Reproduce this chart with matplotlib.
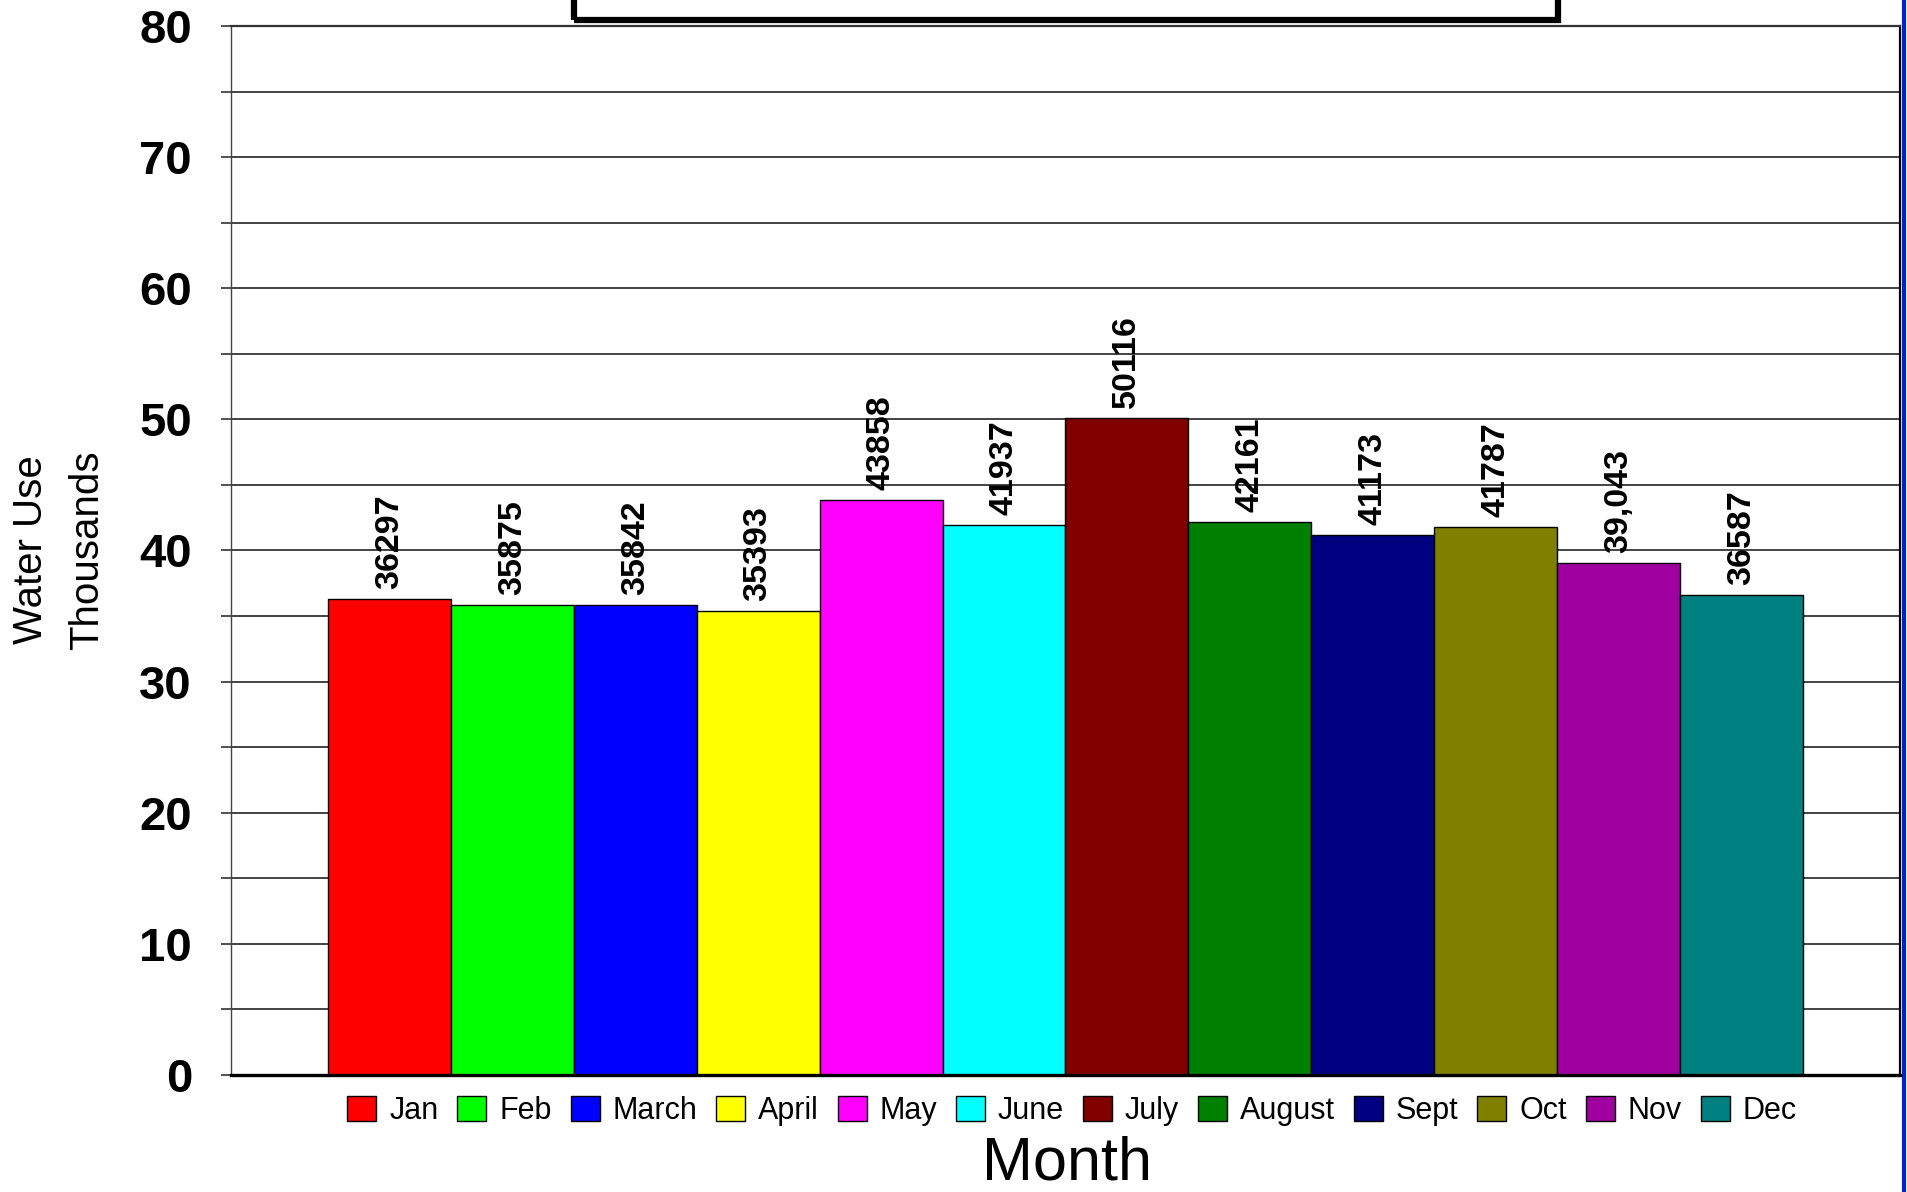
import matplotlib.pyplot as plt
from matplotlib.patches import Rectangle
from matplotlib.lines import Line2D

# monthly water use, in thousands
months = ["Jan", "Feb", "March", "April", "May", "June",
          "July", "August", "Sept", "Oct", "Nov", "Dec"]
use_k = [36.297, 35.875, 35.842, 35.393, 43.858, 41.937,
         50.116, 42.161, 41.173, 41.787, 39.043, 36.587]
value_labels = ["36297", "35875", "35842", "35393", "43858", "41937",
                "50116", "42161", "41173", "41787", "39,043", "36587"]
colors = ["#FF0000", "#00FF00", "#0000FF", "#FFFF00", "#FF00FF", "#00FFFF",
          "#800000", "#008000", "#000080", "#808000", "#A000A0", "#008080"]
y_ticks = list(range(0, 85, 5))
y_ticklabels = [str(v) if v % 10 == 0 else "" for v in y_ticks]

plt.rcParams['font.family'] = ['Liberation Sans', 'DejaVu Sans']

fig = plt.figure(figsize=(19.07, 11.92), dpi=100, facecolor='white')
ax = fig.add_axes([0.1211, 0.0982, 0.8752, 0.88])

x = list(range(len(months)))
bars = ax.bar(x, use_k, width=1.0, color=colors, edgecolor='black',
              linewidth=1.0, zorder=3)
for b, lab in zip(bars, value_labels):
    ax.annotate(lab, (b.get_x() + b.get_width() / 2, b.get_height()),
                xytext=(0, 7), textcoords='offset points', rotation=90,
                ha='center', va='bottom', fontsize=24.5, fontweight='bold')

ax.set_xlim(-0.5 - 0.79, 11.5 + 0.79)
ax.set_ylim(0, 80)
ax.set_yticks(y_ticks)
ax.set_yticklabels(y_ticklabels, fontsize=34, fontweight='bold')
ax.set_xticks([])
ax.tick_params(axis='y', length=7, width=1.2, pad=21, color='#333333')
ax.yaxis.grid(True, color='#222222', linewidth=1.2, zorder=0)
ax.set_axisbelow(True)

ax.spines['left'].set_color('#444444')
ax.spines['left'].set_linewidth(1.0)
ax.spines['bottom'].set_linewidth(2.4)
ax.spines['bottom'].set_zorder(4)
ax.spines['top'].set_color('#333333')
ax.spines['top'].set_linewidth(1.6)
ax.spines['right'].set_linewidth(1.6)

fig.text(0.031, 0.5385, "Water Use\nThousands", rotation=90, ha='center',
         va='center', fontsize=29, linespacing=1.6)
fig.text(0.5595, 0.0, "Month", ha='center', va='bottom', fontsize=44)

handles = [Rectangle((0, 0), 1, 1, facecolor=c, edgecolor='black', linewidth=1.0)
           for c in colors]
fig.legend(handles, months, loc='center', bbox_to_anchor=(0.5621, 0.068),
           ncol=12, frameon=False, fontsize=22, handlelength=0.95,
           handleheight=0.9, handletextpad=0.42, columnspacing=0.62)

# top of the cut-off title box
fig.patches.append(Rectangle((0.301, 0.9835), 0.516, 0.1, transform=fig.transFigure,
                             fill=False, edgecolor='black', linewidth=4.5))
fig.lines.append(Line2D([0.9985, 0.9985], [0, 1], transform=fig.transFigure,
                        color='#0022CC', linewidth=3))

fig.savefig("out.png", dpi=100, facecolor='white')
